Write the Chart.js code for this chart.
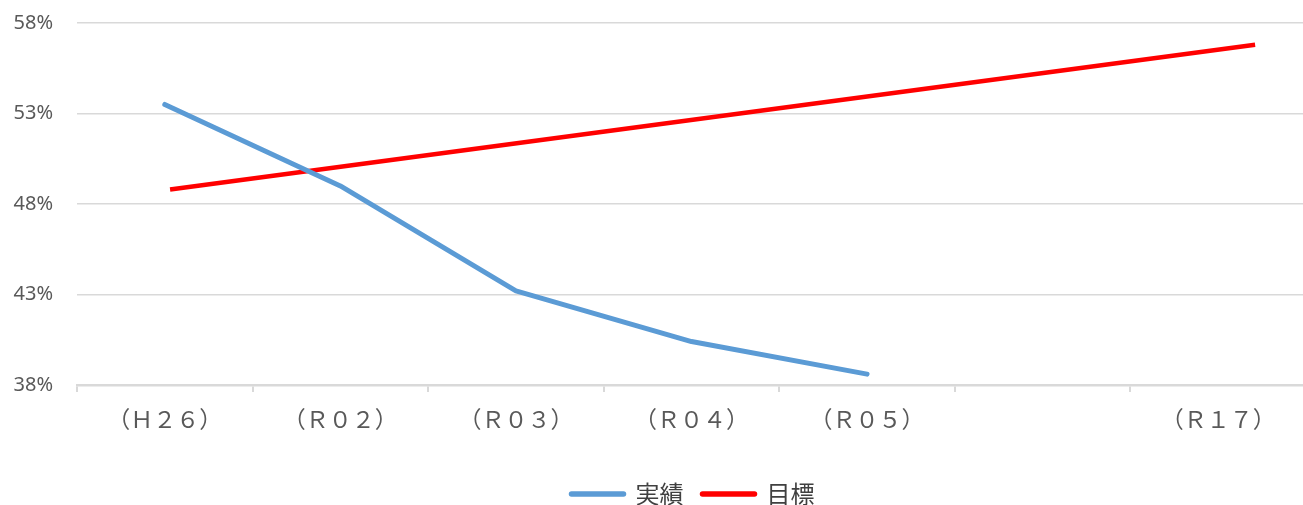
<!DOCTYPE html>
<html>
<head>
<meta charset="utf-8">
<script src="https://cdn.jsdelivr.net/npm/chart.js@4/dist/chart.umd.min.js"></script>
<style>
  html, body { margin: 0; padding: 0; overflow: hidden; background: #fff; }
</style>
</head>
<body>
<canvas id="chart" width="1310" height="505"></canvas>
<script>
// data
const categories = ['（Ｈ２６）', '（Ｒ０２）', '（Ｒ０３）', '（Ｒ０４）', '（Ｒ０５）', '', '（Ｒ１７）'];
const actual = [53.5, 49.0, 43.2, 40.4, 38.6, null, null];
// target line runs on its own axis (category index units)
const targetPos = [0.03, 6.21];
const targetVal = [48.8, 56.8];
const yMin = 38, yMax = 58, yStep = 5;

const gridColor = '#d9d9d9';
const textColor = '#595959';

// Excel put the legend a bit right of centre
const legendShift = {
    id: 'legendShift',
    afterLayout(chart) {
        chart.legend.left += 40;
        chart.legend.right += 40;
    }
};

const ctx = document.getElementById('chart').getContext('2d');

const chart = new Chart(ctx, {
    type: 'line',
    data: {
        labels: categories,
        datasets: [{
            label: '実績',
            data: actual,
            borderColor: '#5b9bd5',
            backgroundColor: '#5b9bd5',
            borderWidth: 5,
            borderCapStyle: 'round',
            borderJoinStyle: 'round',
            pointRadius: 0,
            pointStyle: 'line',
            tension: 0,
            xAxisID: 'x'
        }, {
            label: '目標',
            data: targetPos.map((p, i) => ({ x: p, y: targetVal[i] })),
            borderColor: '#ff0000',
            backgroundColor: '#ff0000',
            borderWidth: 4.5,
            borderCapStyle: 'butt',
            pointRadius: 0,
            pointStyle: 'line',
            tension: 0,
            xAxisID: 'x2'
        }]
    },
    options: {
        responsive: false,
        animation: false,
        layout: { padding: { top: 0, right: 4, bottom: -11, left: 0 } },
        scales: {
            x: {
                type: 'category',
                offset: true,
                grid: {
                    offset: true,
                    drawOnChartArea: false,
                    tickLength: 7,
                    color: gridColor,
                    lineWidth: 2
                },
                border: { color: gridColor, width: 2.5 },
                ticks: {
                    color: textColor,
                    font: { family: '"Noto Sans CJK JP"', size: 23 },
                    padding: 13,
                    maxRotation: 0,
                    autoSkip: false
                },
                afterFit: function(scale) { scale.height = 78; }
            },
            x2: {
                type: 'linear',
                display: false,
                min: -0.5,
                max: categories.length - 0.5
            },
            y: {
                min: yMin,
                max: yMax,
                grid: {
                    color: gridColor,
                    lineWidth: 1.5,
                    drawTicks: true,
                    tickLength: 20,
                    tickColor: 'rgba(0,0,0,0)'
                },
                border: { display: false },
                ticks: {
                    stepSize: yStep,
                    color: textColor,
                    padding: 4,
                    font: { family: '"Noto Sans"', size: 20 },
                    callback: v => v + '%'
                },
                afterFit: function(scale) {
                    scale.width = 77;
                    scale.paddingTop = 23;
                    scale.paddingBottom = 0;
                }
            }
        },
        plugins: {
            legend: {
                position: 'bottom',
                labels: {
                    usePointStyle: true,
                    pointStyleWidth: 52,
                    color: '#404040',
                    font: { family: '"Noto Sans CJK JP"', size: 24 },
                    padding: 19,
                    generateLabels: function(c) {
                        const items = Chart.defaults.plugins.legend.labels.generateLabels(c);
                        items.forEach(it => { it.lineCap = 'round'; it.lineWidth = 5.5; });
                        return items;
                    }
                }
            },
            tooltip: { enabled: false }
        }
    },
    plugins: [legendShift]
});
</script>
</body>
</html>
